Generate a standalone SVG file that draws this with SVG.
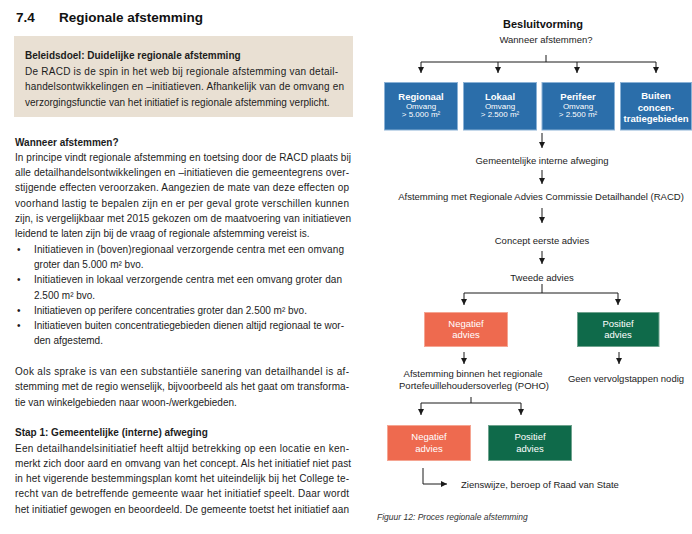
<svg xmlns="http://www.w3.org/2000/svg" width="692" height="534" viewBox="0 0 692 534">
<defs>
<marker id="ah" markerUnits="userSpaceOnUse" markerWidth="7" markerHeight="7" refX="6" refY="3" orient="auto">
<path d="M0,0 L6,3 L0,6 z" fill="#1a1a1a"/>
</marker>
<style>
.t{font-family:"Liberation Sans",Arial,sans-serif;font-size:10px;fill:#1c1c1c}
.b{font-weight:bold}
.h{font-family:"Liberation Sans",Arial,sans-serif;font-size:13.5px;font-weight:bold;fill:#111}
.d{font-family:"Liberation Sans",Arial,sans-serif;font-size:9.5px;fill:#1c1c1c;text-anchor:middle}
.w{font-family:"Liberation Sans",Arial,sans-serif;fill:#fff;text-anchor:middle}
.wb{font-size:9.5px;font-weight:bold}
.ws{font-size:8px}
.wr{font-size:9.5px}
.blue{fill:#2b6eaa;stroke:#8bb2d6;stroke-width:1}
.neg{fill:#ee6a4f;stroke:#f5a592;stroke-width:1}
.pos{fill:#0f6a4a;stroke:#6fa38e;stroke-width:1}
.ln{fill:none;stroke:#1a1a1a;stroke-width:1}
.cap{font-family:"Liberation Sans",Arial,sans-serif;font-size:8.5px;font-style:italic;fill:#333}
</style>
</defs>
<rect width="692" height="534" fill="#fff"/>

<g id="left-text">
<text class="h" x="16" y="22">7.4</text>
<text class="h" x="59" y="22">Regionale afstemming</text>
<rect x="14" y="36" width="339" height="81" fill="#e9e0d3"/>
<text class="t b" x="25" y="58.5">Beleidsdoel: Duidelijke regionale afstemming</text>
<text class="t" x="25" y="74.5" textLength="313" lengthAdjust="spacing">De RACD is de spin in het web bij regionale afstemming van detail-</text>
<text class="t" x="25" y="90" textLength="319" lengthAdjust="spacing">handelsontwikkelingen en –initiatieven. Afhankelijk van de omvang en</text>
<text class="t" x="25" y="105.5">verzorgingsfunctie van het initiatief is regionale afstemming verplicht.</text>

<text class="t b" x="15" y="145.5">Wanneer afstemmen?</text>
<text class="t" x="15" y="160.8" textLength="336" lengthAdjust="spacing">In principe vindt regionale afstemming en toetsing door de RACD plaats bij</text>
<text class="t" x="15" y="176.1" textLength="334" lengthAdjust="spacing">alle detailhandelsontwikkelingen en –initiatieven die gemeentegrens over-</text>
<text class="t" x="15" y="191.4" textLength="334" lengthAdjust="spacing">stijgende effecten veroorzaken. Aangezien de mate van deze effecten op</text>
<text class="t" x="15" y="206.7" textLength="334" lengthAdjust="spacing">voorhand lastig te bepalen zijn en er per geval grote verschillen kunnen</text>
<text class="t" x="15" y="222" textLength="336" lengthAdjust="spacing">zijn, is vergelijkbaar met 2015 gekozen om de maatvoering van initiatieven</text>
<text class="t" x="15" y="237.3">leidend te laten zijn bij de vraag of regionale afstemming vereist is.</text>
<text class="t" x="17" y="252.6">•</text>
<text class="t" x="34" y="252.6" textLength="310" lengthAdjust="spacing">Initiatieven in (boven)regionaal verzorgende centra met een omvang</text>
<text class="t" x="34" y="267.9">groter dan 5.000 m² bvo.</text>
<text class="t" x="17" y="283.2">•</text>
<text class="t" x="34" y="283.2" textLength="308" lengthAdjust="spacing">Initiatieven in lokaal verzorgende centra met een omvang groter dan</text>
<text class="t" x="34" y="298.5">2.500 m² bvo.</text>
<text class="t" x="17" y="313.8">•</text>
<text class="t" x="34" y="313.8">Initiatieven op perifere concentraties groter dan 2.500 m² bvo.</text>
<text class="t" x="17" y="329.1">•</text>
<text class="t" x="34" y="329.1" textLength="310" lengthAdjust="spacing">Initiatieven buiten concentratiegebieden dienen altijd regionaal te wor-</text>
<text class="t" x="34" y="344.4">den afgestemd.</text>
<text class="t" x="15" y="375" textLength="334" lengthAdjust="spacing">Ook als sprake is van een substantiële sanering van detailhandel is af-</text>
<text class="t" x="15" y="390.3" textLength="334" lengthAdjust="spacing">stemming met de regio wenselijk, bijvoorbeeld als het gaat om transforma-</text>
<text class="t" x="15" y="405.6">tie van winkelgebieden naar woon-/werkgebieden.</text>
<text class="t b" x="15" y="436.2">Stap 1: Gemeentelijke (interne) afweging</text>
<text class="t" x="15" y="451.5" textLength="334" lengthAdjust="spacing">Een detailhandelsinitiatief heeft altijd betrekking op een locatie en ken-</text>
<text class="t" x="15" y="466.8" textLength="336" lengthAdjust="spacing">merkt zich door aard en omvang van het concept. Als het initiatief niet past</text>
<text class="t" x="15" y="482.1" textLength="334" lengthAdjust="spacing">in het vigerende bestemmingsplan komt het uiteindelijk bij het College te-</text>
<text class="t" x="15" y="497.4" textLength="334" lengthAdjust="spacing">recht van de betreffende gemeente waar het initiatief speelt. Daar wordt</text>
<text class="t" x="15" y="512.7" textLength="334" lengthAdjust="spacing">het initiatief gewogen en beoordeeld. De gemeente toetst het initiatief aan</text>
</g>

<g id="title">
<text x="543" y="28" style="font-family:'Liberation Sans',Arial,sans-serif;font-size:11px;font-weight:bold;fill:#111" text-anchor="middle">Besluitvorming</text>
<text class="d" x="546" y="42.8">Wanneer afstemmen?</text>
</g>

<g id="connectors">
<path class="ln" d="M546,55 V62 M421,62 H656"/>
<path class="ln" d="M421,62 V73" marker-end="url(#ah)"/>
<path class="ln" d="M498,62 V73" marker-end="url(#ah)"/>
<path class="ln" d="M577,62 V73" marker-end="url(#ah)"/>
<path class="ln" d="M656,62 V73" marker-end="url(#ah)"/>
<path class="ln" d="M542,133 V148" marker-end="url(#ah)"/>
<path class="ln" d="M542,170 V184" marker-end="url(#ah)"/>
<path class="ln" d="M542,208 V223" marker-end="url(#ah)"/>
<path class="ln" d="M542,251 V264" marker-end="url(#ah)"/>
<path class="ln" d="M542,284 V293 M464,293 H618"/>
<path class="ln" d="M464,293 V305" marker-end="url(#ah)"/>
<path class="ln" d="M618,293 V305" marker-end="url(#ah)"/>
<path class="ln" d="M464,352 V364" marker-end="url(#ah)"/>
<path class="ln" d="M619,352 V364" marker-end="url(#ah)"/>
<path class="ln" d="M471,397 V403 M421,403 H521"/>
<path class="ln" d="M421,403 V415" marker-end="url(#ah)"/>
<path class="ln" d="M521,403 V415" marker-end="url(#ah)"/>
<path class="ln" d="M423,468 V484 H447" marker-end="url(#ah)"/>
</g>

<g id="n-regionaal">
<rect class="blue" x="384.5" y="82.5" width="73" height="47.5"/>
<text class="w wb" x="421" y="99.5">Regionaal</text>
<text class="w ws" x="421" y="108.5">Omvang</text>
<text class="w ws" x="421" y="116.5">&gt; 5.000 m²</text>
</g>
<g id="n-lokaal">
<rect class="blue" x="463.5" y="82.5" width="73" height="47.5"/>
<text class="w wb" x="500" y="99.5">Lokaal</text>
<text class="w ws" x="500" y="108.5">Omvang</text>
<text class="w ws" x="500" y="116.5">&gt; 2.500 m²</text>
</g>
<g id="n-perifeer">
<rect class="blue" x="542" y="82.5" width="72.5" height="47.5"/>
<text class="w wb" x="578" y="99.5">Perifeer</text>
<text class="w ws" x="578" y="108.5">Omvang</text>
<text class="w ws" x="578" y="116.5">&gt; 2.500 m²</text>
</g>
<g id="n-buiten">
<rect class="blue" x="620.5" y="82.5" width="71" height="47.5"/>
<text class="w wb" x="656" y="99">Buiten</text>
<text class="w wb" x="656" y="110.5">concen-</text>
<text class="w wb" x="656" y="122">tratiegebieden</text>
</g>

<g id="n-gemeentelijk"><text class="d" x="542" y="163.5">Gemeentelijke interne afweging</text></g>
<g id="n-racd"><text class="d" x="541" y="199.5">Afstemming met Regionale Advies Commissie Detailhandel (RACD)</text></g>
<g id="n-concept"><text class="d" x="542" y="243.5">Concept eerste advies</text></g>
<g id="n-tweede"><text class="d" x="542" y="280.5">Tweede advies</text></g>

<g id="n-negatief1">
<rect class="neg" x="424.5" y="312.5" width="83" height="34"/>
<text class="w wr" x="466" y="326.5">Negatief</text>
<text class="w wr" x="466" y="338">advies</text>
</g>
<g id="n-positief1">
<rect class="pos" x="577.5" y="312.5" width="81.5" height="34"/>
<text class="w wr" x="618" y="326.5">Positief</text>
<text class="w wr" x="618" y="338">advies</text>
</g>
<g id="n-poho">
<text class="d" x="473" y="376.5">Afstemming binnen het regionale</text>
<text class="d" x="474" y="389">Portefeuillehoudersoverleg (POHO)</text>
</g>
<g id="n-geen"><text class="d" x="626" y="381.8">Geen vervolgstappen nodig</text></g>

<g id="n-negatief2">
<rect class="neg" x="387.5" y="425.5" width="83" height="35"/>
<text class="w wr" x="429" y="439.5">Negatief</text>
<text class="w wr" x="429" y="451.8">advies</text>
</g>
<g id="n-positief2">
<rect class="pos" x="488.5" y="425.5" width="83" height="35"/>
<text class="w wr" x="530" y="439.5">Positief</text>
<text class="w wr" x="530" y="451.8">advies</text>
</g>
<g id="n-zienswijze"><text class="d" x="461" y="487.5" style="text-anchor:start">Zienswijze, beroep of Raad van State</text></g>

<g id="caption"><text class="cap" x="377" y="520">Figuur 12: Proces regionale afstemming</text></g>
</svg>
